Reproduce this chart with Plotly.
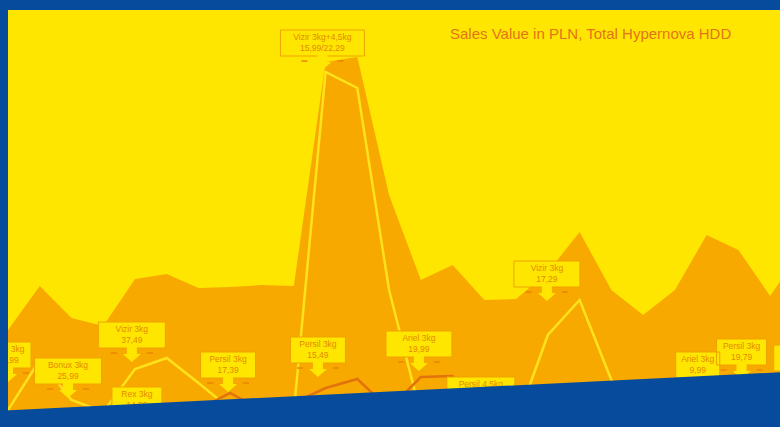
import plotly.graph_objects as go

# Weekly sales value (thousand PLN), Total Hypernova HDD
weeks = list(range(26))
sales_total = [48.5, 70.5, 54.5, 50.5, 74, 76.5, 69.5, 70, 71, 70.5, 182.5, 185, 116,
               73.5, 81, 63.5, 64, 77.5, 97.5, 68.5, 56, 68.5, 96, 88.5, 65.5, 88.5]
sales_promo = [8.5, 33.5, 13.5, 7.5, 29, 34.5, 22, 9, 7.5, 7.5, 177.5, 169.5, 68.5,
               6, 7, 6, 2, 46, 63.5, 23.5, 6, 5, 6, 5, 6, 5]
sales_other = [3, 4, 3, 3, 5, 6, 9, 17, 8, 12, 19.5, 24, 9,
               25, 25.5, 10, 6, 8, 9, 7, 6, 10, 9, 11, 8, 7]

# Promotion callouts: product, shelf price, week and level the arrow points at
callout_product = ["Ariel 3kg", "Bonux 3kg", "Vizir 3kg", "Rex 3kg", "Persil 3kg",
                   "Persil 3kg", "Vizir 3kg+4,5kg", "Ariel 3kg", "Persil 4,5kg",
                   "Vizir 3kg", "Ariel 3kg", "Persil 3kg", "Vizir 3kg"]
callout_price = ["16,99", "25,99", "37,49", "14,99", "17,39", "15,49", "15,99/22,29",
                 "19,99", "21,99", "17,29", "9,99", "19,79", "18,49"]
callout_week = [0, 1.89, 3.9, 4.06, 6.93, 9.76, 9.9, 12.94, 14.89, 16.97, 21.72, 23.1, 24.9]
callout_value = [22.5, 14.5, 32.5, 0, 17.5, 25, 178.5, 28, 5, 63, 17.5, 24, 21]

# ---- styling -------------------------------------------------------------
BLUE = "#074B9C"
YELLOW = "#FFE600"
ORANGE = "#F8A900"
DARK = "#E2730C"
LABEL_TXT = "#E38A00"
LABEL_EDGE = "#EFA200"
FONT = "Liberation Sans, Arial, sans-serif"

W, H = 780, 427
ML, MT = 8, 10
X_RANGE = [0, 24.31]
Y_RANGE = [0, 208.5]
PLOT_W, PLOT_H = W - ML, H - MT
PX_X = PLOT_W / (X_RANGE[1] - X_RANGE[0])   # pixels per week
PX_Y = PLOT_H / (Y_RANGE[1] - Y_RANGE[0])   # pixels per value unit

box_widths = [46, 67, 67, 50, 55, 55, 84, 66, 68, 66, 44, 50, 50]
BOX_H, ARROW_L = 26, 14

fig = go.Figure()

fig.add_trace(go.Scatter(x=weeks, y=sales_total, mode="lines", fill="tozeroy",
                         fillcolor=ORANGE, line=dict(width=0, color=ORANGE),
                         hoverinfo="skip"))
fig.add_trace(go.Scatter(x=weeks, y=sales_promo, mode="lines",
                         line=dict(width=2.5, color="#FFE21A"), hoverinfo="skip"))
fig.add_trace(go.Scatter(x=weeks, y=sales_other, mode="lines",
                         line=dict(width=2.5, color=DARK), hoverinfo="skip"))


def dx(p):
    return p / PX_X


def dy(p):
    return p / PX_Y


# callout geometry, built from the anchor point in pixel offsets
bx, by, ax, ay, tx, ty, kx, ky, texts = [], [], [], [], [], [], [], [], []
for prod, price, wk, val, bw in zip(callout_product, callout_price, callout_week,
                                    callout_value, box_widths):
    bottom = val + dy(ARROW_L)
    top = bottom + dy(BOX_H)
    l, r = wk - dx(bw / 2), wk + dx(bw / 2)
    bx += [l, r, r, l, l, None]
    by += [top, top, bottom, bottom, top, None]
    ax += [wk - dx(5), wk + dx(5), wk + dx(5), wk + dx(9), wk, wk - dx(9), wk - dx(5), None]
    ay += [bottom + dy(1), bottom + dy(1), bottom - dy(6), bottom - dy(6), val,
           bottom - dy(6), bottom - dy(6), None]
    kx += [wk - dx(21), wk - dx(15), None, wk + dx(15), wk + dx(21), None]
    ky += [bottom - dy(5)] * 2 + [None] + [bottom - dy(5)] * 2 + [None]
    tx.append(wk)
    ty.append((top + bottom) / 2)
    texts.append(f"{prod}<br>{price}")

fig.add_trace(go.Scatter(x=kx, y=ky, mode="lines", line=dict(width=1.5, color="#E98600"),
                         hoverinfo="skip"))
fig.add_trace(go.Scatter(x=bx, y=by, mode="lines", fill="toself", fillcolor=YELLOW,
                         line=dict(width=1, color=LABEL_EDGE), hoverinfo="skip"))
fig.add_trace(go.Scatter(x=ax, y=ay, mode="lines", fill="toself", fillcolor=YELLOW,
                         line=dict(width=0, color=YELLOW), hoverinfo="skip"))
fig.add_trace(go.Scatter(x=tx, y=ty, mode="text", text=texts,
                         textfont=dict(family=FONT, size=8.5, color=LABEL_TXT),
                         textposition="middle center", hoverinfo="skip"))


def paper_x(px):
    return (px - ML) / PLOT_W


def paper_y(py):
    return (H - py) / PLOT_H


# slanted blue band across the bottom
band = [(-5, 411), (785, 372), (785, 440), (-5, 440)]
path = "M " + " L ".join(f"{paper_x(x):.5f},{paper_y(y):.5f}" for x, y in band) + " Z"
fig.add_shape(type="path", path=path, xref="paper", yref="paper",
              fillcolor=BLUE, line=dict(width=0), layer="above")

fig.add_annotation(text="Sales Value in PLN, Total Hypernova HDD",
                   x=paper_x(590), y=paper_y(33), xref="paper", yref="paper",
                   xanchor="center", yanchor="middle", showarrow=False,
                   font=dict(family=FONT, size=15, color="#E5731A"))

fig.update_layout(
    width=W, height=H,
    margin=dict(l=ML, r=0, t=MT, b=0, pad=0),
    paper_bgcolor=BLUE, plot_bgcolor=YELLOW,
    showlegend=False, hovermode=False,
    xaxis=dict(visible=False, range=X_RANGE, fixedrange=True),
    yaxis=dict(visible=False, range=Y_RANGE, fixedrange=True),
)

fig.write_html("out.html")
